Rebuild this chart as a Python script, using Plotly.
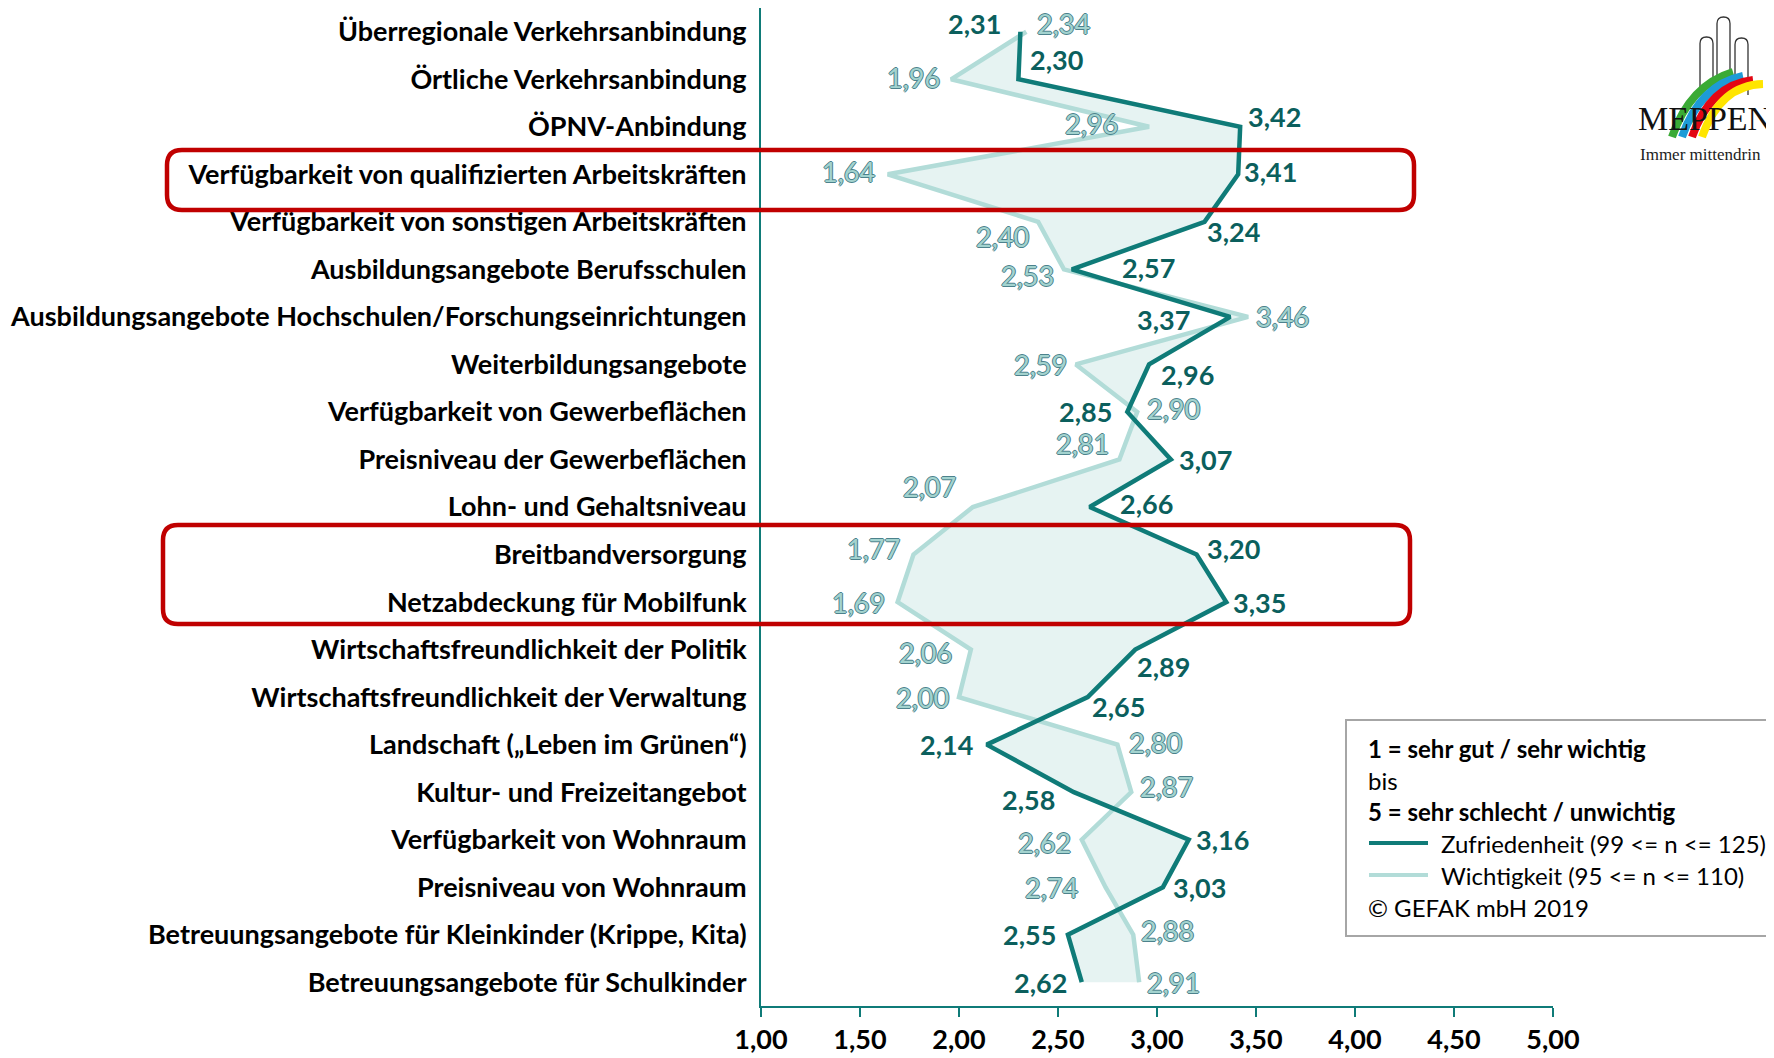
import plotly.graph_objects as go

categories = [
    "Überregionale Verkehrsanbindung",
    "Örtliche Verkehrsanbindung",
    "ÖPNV-Anbindung",
    "Verfügbarkeit von qualifizierten Arbeitskräften",
    "Verfügbarkeit von sonstigen Arbeitskräften",
    "Ausbildungsangebote Berufsschulen",
    "Ausbildungsangebote Hochschulen/Forschungseinrichtungen",
    "Weiterbildungsangebote",
    "Verfügbarkeit von Gewerbeflächen",
    "Preisniveau der Gewerbeflächen",
    "Lohn- und Gehaltsniveau",
    "Breitbandversorgung",
    "Netzabdeckung für Mobilfunk",
    "Wirtschaftsfreundlichkeit der Politik",
    "Wirtschaftsfreundlichkeit der Verwaltung",
    "Landschaft („Leben im Grünen“)",
    "Kultur- und Freizeitangebot",
    "Verfügbarkeit von Wohnraum",
    "Preisniveau von Wohnraum",
    "Betreuungsangebote für Kleinkinder (Krippe, Kita)",
    "Betreuungsangebote für Schulkinder",
]
zufriedenheit = [2.31, 2.30, 3.42, 3.41, 3.24, 2.57, 3.37, 2.96, 2.85, 3.07, 2.66,
                 3.20, 3.35, 2.89, 2.65, 2.14, 2.58, 3.16, 3.03, 2.55, 2.62]
wichtigkeit = [2.34, 1.96, 2.96, 1.64, 2.40, 2.53, 3.46, 2.59, 2.90, 2.81, 2.07,
               1.77, 1.69, 2.06, 2.00, 2.80, 2.87, 2.62, 2.74, 2.88, 2.91]
x_ticks = [1.0, 1.5, 2.0, 2.5, 3.0, 3.5, 4.0, 4.5, 5.0]

name_zuf = "Zufriedenheit (99 <= n <= 125)"
name_wich = "Wichtigkeit (95 <= n <= 110)"

# label offsets from each point in px (dx<0: label left of point, dy>0: above)
zuf_off = [(-17, 8), (10, 20), (6, 10), (4, 3), (0, -10), (48, 2), (-38, -3),
           (10, -10), (-13, 0), (6, 0), (28, 4), (8, 6), (5, 0), (0, -17),
           (2, -9), (-12, 0), (-17, -7), (5, 0), (8, 0), (-10, 0), (-13, 0)]
wich_off = [(9, 8), (-9, 2), (-29, 3), (-11, 3), (-7, -15), (-8, -6), (6, 0),
            (-7, 0), (8, 3), (-8, 16), (-15, 21), (-11, 6), (-11, 0), (-17, -3),
            (-8, 0), (10, 2), (7, 6), (-9, -3), (-26, 0), (6, 4), (6, 0)]

DARK = "#0f7b78"
DARK_TXT = "#0b5f5d"
LIGHT = "#b2dcd8"
FILL = "#e6f3f2"
RED = "#c00000"
FONT = "Lato"

# page is shifted 8px by the body margin; geometry below is in page pixels
W, H = 1766, 1050
PL, PT, PW, PH = 761, 8, 792, 998   # plot area in page pixels
ML, MT = PL - 8, PT - 8
MR, MB = W - ML - PW, H - MT - PH


def px(x):
    return (x - PL) / PW


def py(y):
    return (PT + PH - y) / PH


def rounded_rect(x0, y0, x1, y1, r):
    pts = [
        ("M", (x0 + r, y0)), ("L", (x1 - r, y0)), ("Q", (x1, y0), (x1, y0 + r)),
        ("L", (x1, y1 - r)), ("Q", (x1, y1), (x1 - r, y1)),
        ("L", (x0 + r, y1)), ("Q", (x0, y1), (x0, y1 - r)),
        ("L", (x0, y0 + r)), ("Q", (x0, y0), (x0 + r, y0)),
    ]
    out = []
    for cmd, *xy in pts:
        out.append(cmd + " " + " ".join(f"{px(a):.5f},{py(b):.5f}" for a, b in xy))
    return " ".join(out) + " Z"


def curve(p0, c, p1):
    return (f"M {px(p0[0]):.5f},{py(p0[1]):.5f} Q {px(c[0]):.5f},{py(c[1]):.5f} "
            f"{px(p1[0]):.5f},{py(p1[1]):.5f}")


def fmt(v):
    return f"{v:.2f}".replace(".", ",")


fig = go.Figure()

# shaded area between the two lines
fig.add_trace(go.Scatter(x=zufriedenheit, y=categories, mode="lines",
                         line=dict(width=0), showlegend=False, hoverinfo="skip"))
fig.add_trace(go.Scatter(x=wichtigkeit, y=categories, mode="lines", fill="tonextx",
                         fillcolor=FILL, line=dict(width=0), showlegend=False,
                         hoverinfo="skip"))

fig.add_trace(go.Scatter(x=wichtigkeit, y=categories, mode="lines", name=name_wich,
                         line=dict(color=LIGHT, width=4.5), showlegend=False))
fig.add_trace(go.Scatter(x=zufriedenheit, y=categories, mode="lines", name=name_zuf,
                         line=dict(color=DARK, width=4.5), showlegend=False))

ann = []
outline = "#4c828c"
light_font = dict(family=FONT, size=27, color="#a3d3cf",
                  shadow=f"-1px 0 {outline}, 1px 0 {outline}, 0 -1px {outline}, 0 1px {outline}")
dark_font = dict(family=FONT, size=27, color=DARK_TXT, weight="bold")
for vals, offs, f in [(wichtigkeit, wich_off, light_font), (zufriedenheit, zuf_off, dark_font)]:
    for v, cat, (dx, dy) in zip(vals, categories, offs):
        ann.append(dict(x=v, y=cat, xref="x", yref="y", text=fmt(v), showarrow=False,
                        xanchor="right" if dx < 0 else "left", yanchor="middle",
                        xshift=dx, yshift=dy, font=f))

shapes = [
    dict(type="path", xref="paper", yref="paper", path=rounded_rect(167, 150, 1414, 210, 15),
         line=dict(color=RED, width=4.5)),
    dict(type="path", xref="paper", yref="paper", path=rounded_rect(163, 525, 1410, 624, 15),
         line=dict(color=RED, width=4.5)),
    # legend box
    dict(type="rect", xref="paper", yref="paper", x0=px(1346), x1=px(1772), y0=py(936), y1=py(720),
         line=dict(color="#a6a6a6", width=2)),
    dict(type="line", xref="paper", yref="paper", x0=px(1369), x1=px(1428), y0=py(843), y1=py(843),
         line=dict(color=DARK, width=4)),
    dict(type="line", xref="paper", yref="paper", x0=px(1369), x1=px(1428), y0=py(875), y1=py(875),
         line=dict(color=LIGHT, width=4)),
]

# Meppen logo: three towers and coloured swooshes
for x0, x1, top in [(1700, 1713, 37), (1717, 1730, 17), (1735, 1748, 38)]:
    r = (x1 - x0) / 2
    path = (f"M {px(x0):.5f},{py(95):.5f} L {px(x0):.5f},{py(top + r):.5f} "
            f"Q {px(x0):.5f},{py(top):.5f} {px(x0 + r):.5f},{py(top):.5f} "
            f"Q {px(x1):.5f},{py(top):.5f} {px(x1):.5f},{py(top + r):.5f} "
            f"L {px(x1):.5f},{py(95):.5f}")
    shapes.append(dict(type="path", xref="paper", yref="paper", path=path,
                       line=dict(color="#333333", width=1.3)))
for dx, col in [(0, "#3aaa35"), (10, "#1d9bd7"), (20, "#e30613"), (30, "#ffe500")]:
    shapes.append(dict(type="path", xref="paper", yref="paper",
                       path=curve((1672 + dx, 137), (1690 + dx, 85), (1733 + dx, 72 + dx * 0.4)),
                       line=dict(color=col, width=8)))

leg_rows = [
    (748, 1366, "<b>1 = sehr gut / sehr wichtig</b>"),
    (780, 1366, "bis"),
    (811, 1366, "<b>5 = sehr schlecht / unwichtig</b>"),
    (843, 1439, name_zuf),
    (875, 1439, name_wich),
    (907, 1366, "© GEFAK mbH 2019"),
]
for y, x, t in leg_rows:
    ann.append(dict(xref="paper", yref="paper", x=px(x), y=py(y), text=t, showarrow=False,
                    xanchor="left", yanchor="middle", font=dict(family=FONT, size=24, color="black")))
ann.append(dict(xref="paper", yref="paper", x=px(1636), y=py(118), text="MEPPEN", showarrow=False,
                xanchor="left", yanchor="middle",
                font=dict(family="Liberation Serif", size=34, color="#111111")))
ann.append(dict(xref="paper", yref="paper", x=px(1638), y=py(154), text="Immer mittendrin",
                showarrow=False, xanchor="left", yanchor="middle",
                font=dict(family="Liberation Serif", size=17, color="#222222")))

fig.update_layout(
    width=W, height=H,
    margin=dict(l=ML, r=MR, t=MT, b=MB),
    plot_bgcolor="white", paper_bgcolor="white",
    separators=",.",
    showlegend=False,
    shapes=shapes, annotations=ann,
    font=dict(family=FONT),
)
fig.update_xaxes(range=[1, 5], tickvals=x_ticks, tickformat=".2f",
                 tickfont=dict(family=FONT, size=27, color="black", weight="bold"),
                 ticks="outside", ticklen=9, tickwidth=2, tickcolor=DARK,
                 showline=True, linecolor=DARK, linewidth=2, showgrid=False, zeroline=False)
fig.update_yaxes(range=[len(categories) - 0.5, -0.5], categoryorder="array",
                 categoryarray=categories,
                 tickfont=dict(family=FONT, size=27, color="black", weight="bold"),
                 ticks="", ticklabelstandoff=7,
                 showline=True, linecolor=DARK, linewidth=2, showgrid=False, zeroline=False)

fig.write_html("out.html")
